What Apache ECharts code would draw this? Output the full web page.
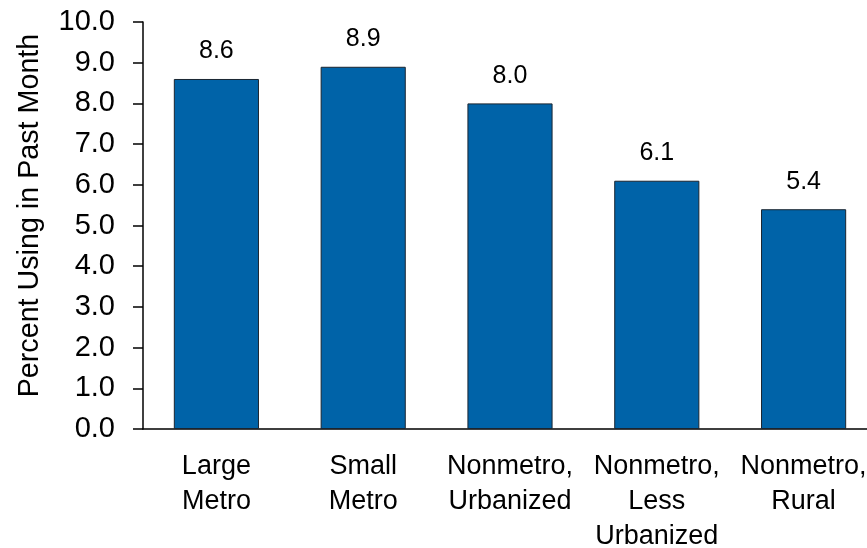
<!DOCTYPE html>
<html>
<head>
<meta charset="utf-8">
<script src="https://cdn.jsdelivr.net/npm/echarts@6/dist/echarts.min.js"></script>
<style>html,body{margin:0;padding:0;background:#fff}#c{width:867px;height:548px}</style>
</head>
<body>
<div id="c"></div>
<script>
var categories = ['Large\nMetro', 'Small\nMetro', 'Nonmetro,\nUrbanized', 'Nonmetro,\nLess\nUrbanized', 'Nonmetro,\nRural'];
var values = [8.6, 8.9, 8.0, 6.1, 5.4];
var yTitle = 'Percent Using in Past Month';

var chart = echarts.init(document.getElementById('c'), null, {renderer: 'canvas'});
var font = 'Liberation Sans, Arial, sans-serif';
chart.setOption({
  animation: false,
  backgroundColor: '#fff',
  grid: {left: 143, right: -10, top: 22, bottom: 119, containLabel: false, outerBoundsMode: 'none'},
  xAxis: {
    type: 'category',
    data: categories,
    axisLine: {lineStyle: {color: '#000', width: 1.5}},
    axisTick: {show: false},
    axisLabel: {color: '#000', fontFamily: font, fontSize: 27, lineHeight: 35, margin: 20, interval: 0}
  },
  yAxis: {
    type: 'value',
    min: 0, max: 10, interval: 1,
    name: yTitle,
    nameLocation: 'middle',
    nameGap: 98,
    nameTextStyle: {color: '#000', fontFamily: font, fontSize: 28.7, padding: [0, 0, 0, 20]},
    axisLine: {show: true, lineStyle: {color: '#000', width: 1.5}},
    axisTick: {show: true, length: 10, lineStyle: {color: '#000', width: 1.5}},
    axisLabel: {color: '#000', fontFamily: font, fontSize: 29, margin: 28, formatter: function (v) { return v.toFixed(1); }},
    splitLine: {show: false}
  },
  series: [{
    type: 'bar',
    data: values,
    barWidth: '58%',
    itemStyle: {color: '#0063a8', borderColor: '#1a2530', borderWidth: 1},
    label: {show: true, position: 'top', distance: 15, color: '#000', fontFamily: font, fontSize: 25,
      formatter: function (p) { return p.value.toFixed(1); }}
  }]
});
</script>
</body>
</html>
